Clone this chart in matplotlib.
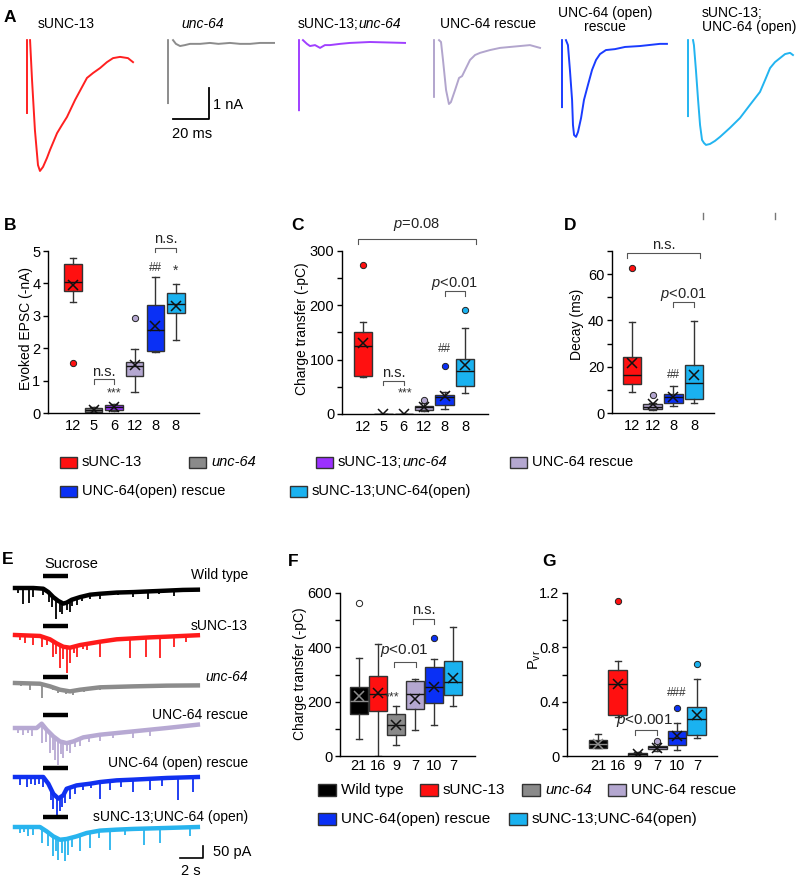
import numpy as np
import matplotlib
matplotlib.use('Agg')
import matplotlib.pyplot as plt
from matplotlib.patches import Rectangle

nan = np.nan

plt.rcParams['font.family'] = ['Liberation Sans', 'DejaVu Sans']
plt.rcParams['mathtext.fontset'] = 'custom'
plt.rcParams['mathtext.rm'] = 'Liberation Sans'
plt.rcParams['mathtext.it'] = 'Liberation Sans:italic'
plt.rcParams['axes.unicode_minus'] = False

W, H = 800, 883

# colours
RED = '#ff1010'
GRAY = '#8a8a8a'
PURPLE = '#9b30ff'
LAV = '#b4a7d0'
BLUE = '#0a30f5'
CYAN = '#1ab2f0'
BLACK = '#000000'

# ---------------- panel A: evoked EPSC traces (ms, nA) ----------------
a_red_t = [0, 0, nan, 1.7, 2.8, 4.4, 6.1, 7.2, 8.9, 11.1, 12.8, 16.7, 19.4, 22.2, 26.7, 30.6, 33.3, 36.7, 40.6, 44.4, 47.8, 51.7, 56.1, 58.9]
a_red_i = [-2.29, 0.06, nan, 0.06, -1.23, -2.84, -3.97, -4.16, -4.03, -3.74, -3.48, -2.94, -2.68, -2.42, -1.87, -1.45, -1.16, -1.0, -0.84, -0.65, -0.52, -0.48, -0.52, -0.65]
a_gray_t = [0, 0, nan, 2.8, 4.4, 6.7, 9.4, 12.2, 17.8, 23.3, 28.0, 34.4, 40.0, 45.6, 51.1, 58.9]
a_gray_i = [-1.97, 0.06, nan, 0.06, -0.06, -0.13, -0.10, -0.06, -0.06, -0.03, -0.06, -0.03, -0.06, -0.06, -0.03, -0.03]
a_purp_t = [0, 0, nan, 2.2, 4.4, 6.1, 8.9, 11.7, 14.4, 17.2, 22.8, 28.3, 39.4, 58.9]
a_purp_i = [-2.2, 0.06, nan, 0.06, -0.06, -0.13, -0.10, -0.19, -0.10, -0.10, -0.06, -0.03, 0.0, -0.03]
a_res_t = [0, 0, nan, 2.8, 3.9, 5.0, 6.7, 8.3, 9.4, 11.7, 13.9, 15.6, 17.8, 20.0, 22.8, 25.6, 31.1, 36.7, 42.2, 47.8, 53.3, 58.9]
a_res_i = [-1.77, 0.06, nan, 0.06, 0.0, -0.58, -1.55, -2.0, -1.94, -1.55, -1.16, -1.10, -0.84, -0.58, -0.42, -0.35, -0.26, -0.19, -0.16, -0.13, -0.10, -0.19]
a_opn_t = [0, 0, nan, 2.2, 3.3, 4.4, 5.6, 6.1, 6.7, 7.8, 8.9, 10.6, 12.2, 14.4, 16.7, 18.9, 21.1, 24.4, 29.4, 35.0, 43.3, 54.4, 58.3]
a_opn_i = [-2.1, 0.06, nan, 0.06, -0.10, -0.90, -1.87, -2.68, -3.0, -3.06, -2.9, -2.45, -1.87, -1.39, -0.90, -0.58, -0.39, -0.26, -0.23, -0.16, -0.13, -0.06, -0.06]
a_dbl_t = [0, 0, nan, 2.8, 3.3, 4.4, 5.6, 6.7, 7.8, 8.9, 10.0, 12.2, 15.0, 17.8, 23.3, 28.9, 34.4, 40.0, 42.8, 45.6, 48.3, 51.1, 53.9, 56.7, 58.3]
a_dbl_i = [-2.39, 0.06, nan, 0.06, -0.10, -0.90, -1.87, -2.68, -3.16, -3.26, -3.32, -3.29, -3.19, -3.06, -2.77, -2.45, -2.03, -1.61, -1.23, -0.84, -0.65, -0.52, -0.39, -0.35, -0.42]

# ---------------- panel B: evoked EPSC (-nA) ----------------
b_n = [12, 5, 6, 12, 8, 8]
b_lo = [3.43, 0.02, 0.05, 0.64, 1.87, 2.26]
b_q1 = [3.78, 0.03, 0.08, 1.15, 1.92, 3.08]
b_med = [4.05, 0.08, 0.17, 1.44, 2.57, 3.35]
b_q3 = [4.59, 0.15, 0.25, 1.58, 3.34, 3.69]
b_hi = [4.79, 0.17, 0.27, 1.97, 4.21, 3.98]
b_mean = [3.95, 0.08, 0.17, 1.49, 2.70, 3.30]
b_out = [[1.55], [], [], [2.94], [], []]

# ---------------- panel C: charge transfer (-pC) ----------------
c_n = [12, 5, 6, 12, 8, 8]
c_lo = [68.5, 0, 0, 6, 9, 38]
c_q1 = [70, 0, 0, 8, 17, 50.8]
c_med = [125.5, 0, 0, 12, 31, 79.6]
c_q3 = [151, 0, 0, 15, 35.5, 102]
c_hi = [169.5, 0, 0, 19.6, 40, 158]
c_mean = [130, 0, 0, 12, 33.7, 90]
c_out = [[275], [], [], [26], [87.5], [191]]

# ---------------- panel D: decay (ms) ----------------
d_n = [12, 12, 8, 8]
d_lo = [9.2, 1.5, 3.1, 4.5]
d_q1 = [12.4, 1.8, 4.5, 6.1]
d_med = [16.6, 2.8, 6.8, 13.1]
d_q3 = [24.2, 3.8, 8.1, 20.8]
d_hi = [39.5, 4.5, 11.7, 39.8]
d_mean = [21.8, 3.8, 7.1, 16.6]
d_out = [[62.6], [7.8], [], []]

# ---------------- panel E: sucrose traces (s, pA) ----------------
e_wt_t = [0, 1.6, 2.46, 2.9, 3.33, 3.77, 4.2, 4.49, 4.93, 5.65, 6.52, 7.39, 8.84, 10.3, 11.7, 13.2, 14.6, 15.9]
e_wt_i = [0, 0, -3, -17, -38, -54, -65, -61, -49, -38, -28, -24, -19, -17, -14, -11, -8, -7]
e_wt_st = [0.3, 0.72, 1.25, 1.6, 2.46, 2.95, 3.2, 3.57, 3.9, 4.1, 4.49, 4.78, 5.0, 5.36, 5.8, 6.5, 7.39, 9.0, 10.3, 11.6, 12.5, 13.8, 14.8]
e_wt_si = [-20, -65, -61, -38, -31, -60, -80, -128, -100, -110, -93, -100, -75, -72, -55, -45, -44, -30, -38, -44, -25, -35, -18]

e_s13_t = [0, 2.17, 3.04, 3.62, 4.2, 4.78, 5.65, 6.52, 7.39, 8.84, 10.3, 11.7, 13.2, 15.9]
e_s13_i = [0, -4, -18, -35, -49, -53, -42, -35, -28, -18, -14, -10, -7, -1]
e_s13_st = [0.4, 0.87, 1.6, 2.32, 2.8, 3.33, 3.6, 3.91, 4.2, 4.49, 4.78, 5.1, 5.36, 5.9, 6.23, 7.39, 8.5, 10.0, 11.4, 12.6, 13.8, 14.9]
e_s13_si = [-20, -32, -42, -49, -40, -90, -80, -139, -100, -160, -118, -75, -90, -60, -63, -90, -30, -97, -90, -97, -49, -28]

e_u64_t = [0, 2.17, 3.04, 3.91, 4.78, 5.65, 7.39, 10.3, 13.2, 15.9]
e_u64_i = [0, -3, -14, -28, -35, -28, -18, -14, -11, -10]
e_u64_st = [0.5, 1.3, 2.32, 3.3, 3.77, 4.4, 5.07, 6.0, 7.39, 9.5, 12.0]
e_u64_si = [-12, -28, -63, -30, -42, -45, -49, -38, -28, -20, -18]

e_res_t = [0, 1.88, 2.32, 2.75, 3.33, 3.91, 4.49, 5.07, 5.94, 7.39, 8.84, 10.3, 13.2, 15.9]
e_res_i = [0, 0, 18, -7, -35, -56, -63, -56, -39, -28, -21, -14, 0, 14]
e_res_st = [0.3, 0.72, 1.1, 1.45, 2.32, 2.7, 3.04, 3.3, 3.48, 3.77, 4.0, 4.2, 4.5, 4.78, 5.2, 5.65, 6.4, 7.39, 8.5, 10.3, 11.7]
e_res_si = [-20, -28, -22, -35, -63, -60, -104, -90, -132, -153, -110, -125, -95, -104, -80, -76, -60, -56, -40, -42, -35]

e_opn_t = [0, 2.46, 2.9, 3.33, 3.77, 4.2, 4.49, 5.36, 6.52, 7.39, 8.84, 10.3, 13.2, 15.9]
e_opn_i = [0, 0, -28, -70, -90, -76, -49, -35, -28, -21, -14, -11, -4, 0]
e_opn_st = [0.43, 1.01, 1.4, 1.74, 2.1, 2.46, 3.1, 3.33, 3.62, 3.9, 4.06, 4.35, 4.78, 5.2, 5.94, 6.6, 7.39, 8.26, 9.2, 10.3, 11.7, 12.8, 14.2, 15.5]
e_opn_si = [-35, -42, -30, -35, -30, -42, -95, -132, -160, -140, -125, -110, -90, -70, -56, -45, -90, -56, -40, -63, -56, -38, -97, -63]

e_dbl_t = [0, 2.17, 2.75, 3.33, 3.91, 4.49, 5.36, 6.23, 7.39, 8.84, 10.3, 13.2, 15.9]
e_dbl_i = [0, 0, -18, -39, -53, -50, -39, -25, -15, -11, -8, -4, 0]
e_dbl_st = [0.43, 0.8, 1.16, 1.59, 2.32, 2.9, 3.33, 3.55, 3.77, 4.05, 4.35, 4.64, 5.0, 5.65, 6.52, 7.3, 8.26, 9.6, 11.2, 12.6, 15.2]
e_dbl_si = [-25, -20, -39, -32, -67, -80, -122, -100, -136, -110, -143, -115, -85, -101, -88, -45, -95, -35, -74, -67, -39]

sucrose_on, sucrose_off = 2.4, 4.6

# ---------------- panel F: sucrose charge transfer (-pC) ----------------
f_n = [21, 16, 9, 7, 10, 7]
f_lo = [61, 0, 42, 97, 114, 185]
f_q1 = [156, 164, 79, 174, 195, 226]
f_med = [201, 227, 114, 227, 254, 272]
f_q3 = [254, 293, 155, 277, 328, 351]
f_hi = [361, 411, 185, 285, 356, 474]
f_mean = [221, 233, 114, 211, 254, 287]
f_out = [[564], [], [], [], [434], []]

# ---------------- panel G: Pvr ----------------
g_n = [21, 16, 9, 7, 10, 7]
g_lo = [0.056, 0.284, 0.0, 0.039, 0.044, 0.134]
g_q1 = [0.061, 0.30, 0.002, 0.051, 0.081, 0.154]
g_med = [0.086, 0.528, 0.012, 0.064, 0.134, 0.269]
g_q3 = [0.117, 0.635, 0.024, 0.073, 0.186, 0.359]
g_hi = [0.159, 0.699, 0.03, 0.093, 0.240, 0.565]
g_mean = [0.086, 0.528, 0.012, 0.056, 0.149, 0.30]
g_out = [[], [1.144], [], [0.112], [0.357], [0.675]]

col6 = [RED, GRAY, PURPLE, LAV, BLUE, CYAN]
col4 = [RED, LAV, BLUE, CYAN]
colF = [BLACK, RED, GRAY, LAV, BLUE, CYAN]

fig = plt.figure(figsize=(W / 100, H / 100), dpi=100)
renderer = fig.canvas.get_renderer()


def px_axes(x0, y0, x1, y1):
    return fig.add_axes([x0 / W, 1 - y1 / H, (x1 - x0) / W, (y1 - y0) / H])


# overlay axes in pixel units for labels / legends
ov = px_axes(0, 0, W, H)
ov.set_xlim(0, W)
ov.set_ylim(H, 0)
ov.axis('off')
ov.patch.set_alpha(0)
ov.set_zorder(10)


def mixed_text(x, y, parts, fs, ha='left', **kw):
    texts = []
    cur = x
    for s, st in parts:
        t = ov.text(cur, y, s, fontsize=fs, style=st, ha='left', va='center', **kw)
        cur += t.get_window_extent(renderer).width
        texts.append(t)
    if ha != 'left':
        shift = (cur - x) if ha == 'right' else (cur - x) / 2
        for t in texts:
            t.set_x(t.get_position()[0] - shift)
    return texts


def legend_item(x, y, color, parts, fs, w, h):
    ov.add_patch(Rectangle((x, y - h / 2), w, h, facecolor=color, edgecolor='#333333', lw=1))
    mixed_text(x + w + 5, y, parts, fs)


def box_panel(rect, xlim, ylim, n, lo, q1, med, q3, hi, mean, out, colors,
              major, major_lab, minor, width, xpad):
    ax = px_axes(*rect)
    stats = [dict(whislo=lo[i], q1=q1[i], med=med[i], q3=q3[i], whishi=hi[i],
                  mean=mean[i], fliers=out[i]) for i in range(len(n))]
    pos = np.arange(1, len(n) + 1)
    art = ax.bxp(stats, positions=pos, widths=width, capwidths=0.32,
                 patch_artist=True, showmeans=True, manage_ticks=False,
                 boxprops=dict(edgecolor='#333333', linewidth=1),
                 whiskerprops=dict(color='#333333', linewidth=1),
                 capprops=dict(color='#333333', linewidth=1),
                 medianprops=dict(color='#111111', linewidth=1),
                 meanprops=dict(marker='x', markeredgecolor='#111111',
                                markersize=7, markeredgewidth=1.1),
                 flierprops=dict(marker='o', markersize=4.5,
                                 markeredgecolor='#222222', markeredgewidth=0.7))
    for p, c in zip(art['boxes'], colors):
        p.set_facecolor(c)
    for fl, c in zip(art['fliers'], colors):
        fl.set_markerfacecolor(c)
    ax.set_xlim(*xlim)
    ax.set_ylim(*ylim)
    ax.set_xticks(pos)
    ax.set_xticklabels([str(v) for v in n])
    ax.set_yticks(major)
    ax.set_yticklabels(major_lab)
    ax.set_yticks(minor, minor=True)
    ax.tick_params(axis='x', length=0, pad=xpad, labelsize=10.5)
    ax.tick_params(axis='y', which='both', length=3.5, width=1, pad=2, labelsize=10.5)
    for s in ['top', 'right']:
        ax.spines[s].set_visible(False)
    for s in ['left', 'bottom']:
        ax.spines[s].set_linewidth(1)
    ax.patch.set_alpha(0)
    return ax, art


def bracket(ax, x1, x2, ytop, yleg, txt, ty, tx=None, fs=10.5):
    ax.plot([x1, x1, x2, x2], [yleg, ytop, ytop, yleg], color='#555555', lw=0.8, clip_on=False)
    ax.text((x1 + x2) / 2 if tx is None else tx, ty, txt, ha='center', va='center',
            fontsize=fs, color='#222222', clip_on=False)


def mark(ax, x, y, txt, fs=9):
    ax.text(x, y, txt, ha='center', va='center', fontsize=fs, color='#333333', clip_on=False)


# ---------------- panel A ----------------
PX_PER_MS, PX_PER_NA, A_BASE = 1.8, 31.0, 42
axA = px_axes(0, 0, W, 190)
axA.set_xlim(0, W / PX_PER_MS)
axA.set_ylim(-(190 - A_BASE) / PX_PER_NA, A_BASE / PX_PER_NA)
axA.axis('off')
a_traces = [(a_red_t, a_red_i, 27, '#ff2020'), (a_gray_t, a_gray_i, 168, '#8c8c8c'),
            (a_purp_t, a_purp_i, 299, '#a040ff'), (a_res_t, a_res_i, 434, '#b2a5cd'),
            (a_opn_t, a_opn_i, 562, '#1a3cff'), (a_dbl_t, a_dbl_i, 688, '#22b4f0')]
for t, i, x0, c in a_traces:
    axA.plot(x0 / PX_PER_MS + np.array(t), np.array(i), color=c, lw=1.4)
sx = 209 / PX_PER_MS
sy = -(119 - A_BASE) / PX_PER_NA
axA.plot([sx - 20, sx, sx], [sy, sy, sy + 1], color='black', lw=1.3)
ov.text(213, 105, '1 nA', fontsize=10.5, va='center', ha='left')
ov.text(192, 134, '20 ms', fontsize=10.5, va='center', ha='center')

ov.text(66, 24, 'sUNC-13', fontsize=10, ha='center', va='center')
ov.text(203, 24, 'unc-64', fontsize=10, style='italic', ha='center', va='center')
mixed_text(298, 24, [('sUNC-13;', 'normal'), ('unc-64', 'italic')], 10)
ov.text(488, 24, 'UNC-64 rescue', fontsize=10, ha='center', va='center')
ov.text(605, 20, 'UNC-64 (open)\nrescue', fontsize=10, ha='center', va='center', linespacing=1.05)
ov.text(702, 20, 'sUNC-13;\nUNC-64 (open)', fontsize=10, ha='left', va='center', linespacing=1.05)

# ---------------- panel B ----------------
axB, _ = box_panel((48, 251, 199, 413), (-0.21, 7.12), (0, 5), b_n, b_lo, b_q1, b_med, b_q3,
                   b_hi, b_mean, b_out, col6, [0, 1, 2, 3, 4, 5], ['0', '1', '2', '3', '4', '5'],
                   [], 0.85, 4)
bracket(axB, 2, 3, 1.05, 0.9, 'n.s.', 1.28)
bracket(axB, 5, 6, 5.1, 4.96, 'n.s.', 5.36)
mark(axB, 3, 0.6, '***')
mark(axB, 5, 4.46, '##', 8.5)
mark(axB, 6, 4.4, '*', 10)

# ---------------- panel C ----------------
axC, _ = box_panel((342, 251, 488, 414), (-0.03, 7.13), (0, 300), c_n, c_lo, c_q1, c_med, c_q3,
                   c_hi, c_mean, c_out, col6, [0, 100, 200, 300], ['0', '100', '200', '300'],
                   [50, 150, 250], 0.9, 4)
bracket(axC, 0.74, 6.54, 322, 313, '$p$=0.08', 348)
bracket(axC, 2, 3, 60, 53, 'n.s.', 75)
bracket(axC, 5, 6, 227, 217, '$p$<0.01', 240)
mark(axC, 3.05, 37, '***')
mark(axC, 5, 119, '##', 8.5)

# ---------------- panel D ----------------
axD, _ = box_panel((612, 251, 714, 413), (0.03, 4.97), (0, 70), d_n, d_lo, d_q1, d_med, d_q3,
                   d_hi, d_mean, d_out, col4, [0, 20, 40, 60], ['0', '20', '40', '60'],
                   [10, 30, 50, 70], 0.9, 4)
bracket(axD, 0.76, 4.29, 69, 66.8, 'n.s.', 72.5)
bracket(axD, 3, 4, 47.9, 45.8, '$p$<0.01', 51.3)
mark(axD, 3, 16.6, '##', 8.5)
for xm in (703, 775):
    ov.plot([xm, xm], [213, 219], color='#777777', lw=1)

# ---------------- legend B-D ----------------
legend_item(60, 462, RED, [('sUNC-13', 'normal')], 10.5, 17, 11)
legend_item(189, 462, GRAY, [('unc-64', 'italic')], 10.5, 17, 11)
legend_item(316, 462, PURPLE, [('sUNC-13;', 'normal'), ('unc-64', 'italic')], 10.5, 17, 11)
legend_item(510, 462, LAV, [('UNC-64 rescue', 'normal')], 10.5, 17, 11)
legend_item(60, 491, BLUE, [('UNC-64(open) rescue', 'normal')], 10.5, 17, 11)
legend_item(290, 491, CYAN, [('sUNC-13;UNC-64(open)', 'normal')], 10.5, 17, 11)

# ---------------- panel E ----------------
PX_PER_S, PX_PER_PA, E_X0 = 11.5, 12 / 50, 15
axE = px_axes(0, 550, 260, H)
axE.set_xlim(-E_X0 / PX_PER_S, (260 - E_X0) / PX_PER_S)
axE.set_ylim(-(H - 550) / PX_PER_PA, 0)
axE.axis('off')
e_traces = [(e_wt_t, e_wt_i, e_wt_st, e_wt_si, '#000000', 588, 576),
            (e_s13_t, e_s13_i, e_s13_st, e_s13_si, '#ff1a1a', 635, 626),
            (e_u64_t, e_u64_i, e_u64_st, e_u64_si, '#8c8c8c', 683, 677),
            (e_res_t, e_res_i, e_res_st, e_res_si, '#b7a9d3', 728, 715),
            (e_opn_t, e_opn_i, e_opn_st, e_opn_si, '#1030f0', 777, 768),
            (e_dbl_t, e_dbl_i, e_dbl_st, e_dbl_si, '#28b4ee', 827, 817)]
for t, i, st, si, c, base, bar in e_traces:
    off = -(base - 550) / PX_PER_PA
    axE.plot(t, np.array(i) + off, color=c, lw=3.2, solid_joinstyle='round')
    env = np.interp(st, t, i)
    axE.vlines(st, env + off, np.array(si) + off, color=c, lw=1.3)
    yb = -(bar - 550) / PX_PER_PA
    axE.plot([sucrose_on, sucrose_off], [yb, yb], color='black', lw=3.2, solid_capstyle='butt')
ex = (203 - E_X0) / PX_PER_S
ey = -(858 - 550) / PX_PER_PA
axE.plot([ex - 2, ex, ex], [ey, ey, ey + 50], color='black', lw=1.2)
ov.text(213, 852, '50 pA', fontsize=10.5, ha='left', va='center')
ov.text(191, 871, '2 s', fontsize=10.5, ha='center', va='center')
ov.text(71, 564, 'Sucrose', fontsize=10.5, ha='center', va='center')
ov.text(248, 575, 'Wild type', fontsize=10, ha='right', va='center')
ov.text(248, 626, 'sUNC-13', fontsize=10, ha='right', va='center')
ov.text(248, 677, 'unc-64', fontsize=10, style='italic', ha='right', va='center')
ov.text(248, 715, 'UNC-64 rescue', fontsize=10, ha='right', va='center')
ov.text(248, 763, 'UNC-64 (open) rescue', fontsize=10, ha='right', va='center')
ov.text(248, 817, 'sUNC-13;UNC-64 (open)', fontsize=10, ha='right', va='center')

# ---------------- panel F ----------------
axF, artF = box_panel((340, 593, 475, 756), (0.01, 7.16), (0, 600), f_n, f_lo, f_q1, f_med, f_q3,
                      f_hi, f_mean, f_out, colF, [0, 200, 400, 600], ['0', '200', '400', '600'],
                      [100, 300, 500], 0.95, 2)
artF['medians'][0].set_color('#8c8c8c')
artF['means'][0].set_markeredgecolor('#8c8c8c')
artF['fliers'][0].set_markerfacecolor('white')
bracket(axF, 2.85, 4.05, 346, 328, '$p$<0.01', 389, tx=3.4, fs=11)
bracket(axF, 3.85, 5.0, 505, 487, 'n.s.', 537)
mark(axF, 2.76, 217, '***')

# ---------------- panel G ----------------
axG, artG = box_panel((567, 593, 717, 756), (-0.57, 7.02), (0, 1.2), g_n, g_lo, g_q1, g_med, g_q3,
                      g_hi, g_mean, g_out, colF, [0, 0.4, 0.8, 1.2], ['0', '0.4', '0.8', '1.2'],
                      [0.2, 0.6, 1.0], 0.95, 2)
artG['medians'][0].set_color('#8c8c8c')
artG['means'][0].set_markeredgecolor('#8c8c8c')
bracket(axG, 2.85, 4.0, 0.19, 0.154, '$p$<0.001', 0.262, tx=3.37, fs=11)
mark(axG, 5, 0.464, '###', 8.5)

# ---------------- legend F-G ----------------
legend_item(318, 790, BLACK, [('Wild type', 'normal')], 11, 18, 12)
legend_item(420, 790, RED, [('sUNC-13', 'normal')], 11, 18, 12)
legend_item(522, 790, GRAY, [('unc-64', 'italic')], 11, 18, 12)
legend_item(608, 790, LAV, [('UNC-64 rescue', 'normal')], 11, 18, 12)
legend_item(318, 819, BLUE, [('UNC-64(open) rescue', 'normal')], 11, 18, 12)
legend_item(509, 819, CYAN, [('sUNC-13;UNC-64(open)', 'normal')], 11, 18, 12)

# ---------------- axis labels ----------------
ov.text(26, 328, 'Evoked EPSC (-nA)', fontsize=10, rotation=90, ha='center', va='center')
ov.text(302, 329, 'Charge transfer (-pC)', fontsize=10, rotation=90, ha='center', va='center')
ov.text(577, 324, 'Decay (ms)', fontsize=10, rotation=90, ha='center', va='center')
ov.text(300, 674, 'Charge transfer (-pC)', fontsize=10, rotation=90, ha='center', va='center')
ov.text(535, 660, 'P$_{\\mathrm{vr}}$', fontsize=10.5, rotation=90, ha='center', va='center')

# ---------------- panel letters ----------------
for lt, x, y in [('A', 10, 18), ('B', 10, 225), ('C', 297, 225), ('D', 570, 225),
                 ('E', 8, 560), ('F', 293, 561), ('G', 549, 561)]:
    ov.text(x, y, lt, fontsize=12.5, fontweight='bold', ha='center', va='center')

fig.savefig('out.png', dpi=100)
